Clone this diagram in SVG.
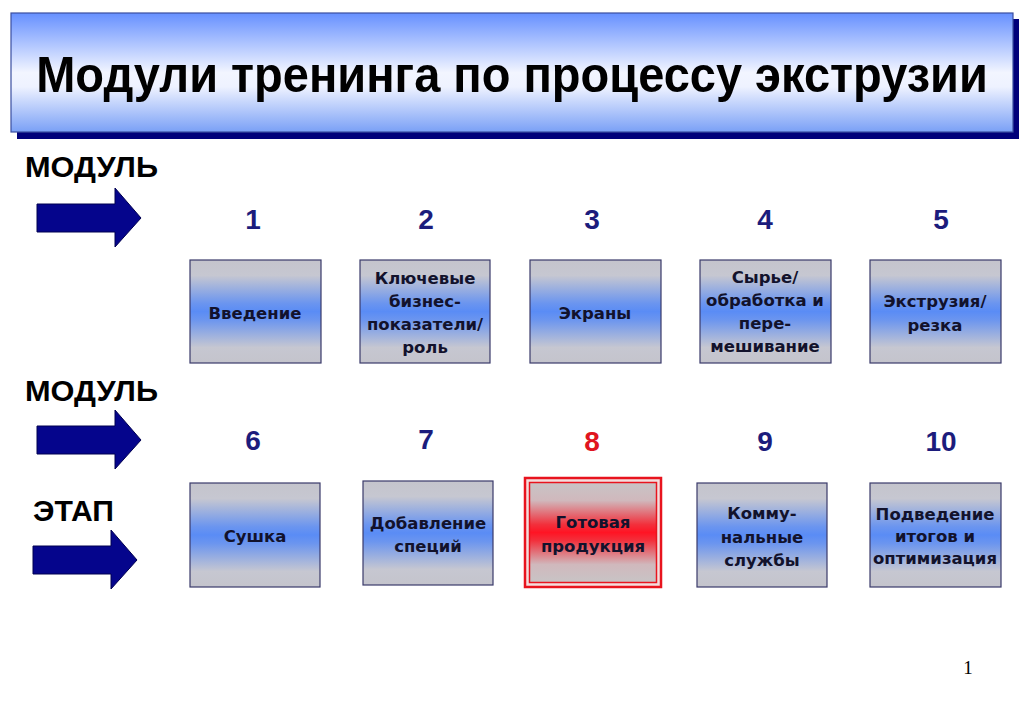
<svg xmlns="http://www.w3.org/2000/svg" width="1024" height="708" viewBox="0 0 1024 708">
<defs>
<linearGradient id="gTitle" x1="0" y1="0" x2="0" y2="1">
<stop offset="0" stop-color="#6690ff"/>
<stop offset="0.5" stop-color="#f2f5ff"/>
<stop offset="0.62" stop-color="#eef2ff"/>
<stop offset="1" stop-color="#7aa0f6"/>
</linearGradient>
<linearGradient id="gBox" x1="0" y1="0" x2="0" y2="1">
<stop offset="0" stop-color="#c4c4cc"/>
<stop offset="0.15" stop-color="#c6c7d1"/>
<stop offset="0.42" stop-color="#6b95ef"/>
<stop offset="0.5" stop-color="#5a8cf5"/>
<stop offset="0.58" stop-color="#6b95ef"/>
<stop offset="0.85" stop-color="#c6c7d1"/>
<stop offset="1" stop-color="#c4c4cc"/>
</linearGradient>
<linearGradient id="gRed" x1="0" y1="0" x2="0" y2="1">
<stop offset="0" stop-color="#c8c4c6"/>
<stop offset="0.18" stop-color="#d0b8bc"/>
<stop offset="0.42" stop-color="#f2303c"/>
<stop offset="0.5" stop-color="#ff1424"/>
<stop offset="0.58" stop-color="#f2303c"/>
<stop offset="0.82" stop-color="#d0b8bc"/>
<stop offset="1" stop-color="#c8c4c6"/>
</linearGradient>
<path id="arrowShape" d="M0,16 H78 V0 L104,30 L78,59 V44 H0 Z"/>
</defs>
<style>
.box{fill:url(#gBox);stroke:#3a3a6a;stroke-width:1.2}
.bt{font-family:"DejaVu Sans",sans-serif;font-weight:bold;font-size:16.5px;fill:#12122c;text-anchor:middle}
.num{font-family:"Liberation Sans",Arial,sans-serif;font-weight:bold;font-size:28px;fill:#1c1c7c;text-anchor:middle}
.lbl{font-family:"Liberation Sans",Arial,sans-serif;font-weight:bold;font-size:29px;fill:#000}
.arr{fill:#05058c;stroke:#000050;stroke-width:1}
</style>
<rect width="1024" height="708" fill="#fff"/>

<g id="title">
<rect x="17" y="19" width="1002" height="120" fill="#00007a"/>
<rect x="11" y="13" width="1002" height="119" fill="url(#gTitle)" stroke="#3b4fa0" stroke-width="1.2"/>
<text x="512" y="92" font-family="Liberation Sans, Arial, sans-serif" font-weight="bold" font-size="47" text-anchor="middle" fill="#000" transform="translate(512,92) scale(1,1.05) translate(-512,-92)">Модули тренинга по процессу экструзии</text>
</g>

<g id="labels">
<text class="lbl" x="25" y="177" textLength="133" lengthAdjust="spacingAndGlyphs">МОДУЛЬ</text>
<text class="lbl" x="25" y="401" textLength="133" lengthAdjust="spacingAndGlyphs">МОДУЛЬ</text>
<text class="lbl" x="33" y="521" textLength="81" lengthAdjust="spacingAndGlyphs">ЭТАП</text>
</g>

<g id="connectors">
<use href="#arrowShape" class="arr" transform="translate(37,188)"/>
<use href="#arrowShape" class="arr" transform="translate(37,410)"/>
<use href="#arrowShape" class="arr" transform="translate(33,530)"/>
</g>

<g id="numbers">
<text class="num" x="253" y="229">1</text>
<text class="num" x="426" y="229">2</text>
<text class="num" x="592" y="229">3</text>
<text class="num" x="765" y="229">4</text>
<text class="num" x="941" y="229">5</text>
<text class="num" x="253" y="450">6</text>
<text class="num" x="426" y="449">7</text>
<text class="num" x="592" y="451" style="fill:#e01420">8</text>
<text class="num" x="765" y="451">9</text>
<text class="num" x="941" y="451">10</text>
</g>

<g id="node1">
<rect class="box" x="190" y="260" width="131" height="103"/>
<text class="bt" x="255" y="319">Введение</text>
</g>
<g id="node2">
<rect class="box" x="360" y="260" width="130" height="103"/>
<text class="bt" x="425" y="284">Ключевые</text>
<text class="bt" x="425" y="307">бизнес-</text>
<text class="bt" x="425" y="330">показатели/</text>
<text class="bt" x="425" y="353">роль</text>
</g>
<g id="node3">
<rect class="box" x="530" y="260" width="131" height="103"/>
<text class="bt" x="595" y="319">Экраны</text>
</g>
<g id="node4">
<rect class="box" x="700" y="260" width="131" height="103"/>
<text class="bt" x="765" y="283">Сырье/</text>
<text class="bt" x="765" y="306">обработка и</text>
<text class="bt" x="765" y="329">пере-</text>
<text class="bt" x="765" y="352">мешивание</text>
</g>
<g id="node5">
<rect class="box" x="870" y="260" width="131" height="103"/>
<text class="bt" x="935" y="307">Экструзия/</text>
<text class="bt" x="935" y="331">резка</text>
</g>
<g id="node6">
<rect class="box" x="190" y="483" width="130" height="104"/>
<text class="bt" x="255" y="542">Сушка</text>
</g>
<g id="node7">
<rect class="box" x="363" y="481" width="130" height="104"/>
<text class="bt" x="428" y="529">Добавление</text>
<text class="bt" x="428" y="552">специй</text>
</g>
<g id="node8">
<rect x="525" y="478" width="136" height="109" fill="#f4dede" stroke="#e8141e" stroke-width="2.5"/>
<rect x="529.5" y="482.5" width="127" height="100" fill="url(#gRed)" stroke="#e8141e" stroke-width="1.5"/>
<text class="bt" x="593" y="528">Готовая</text>
<text class="bt" x="593" y="552">продукция</text>
</g>
<g id="node9">
<rect class="box" x="697" y="483" width="130" height="104"/>
<text class="bt" x="762" y="519">Комму-</text>
<text class="bt" x="762" y="543">нальные</text>
<text class="bt" x="762" y="566">службы</text>
</g>
<g id="node10">
<rect class="box" x="870" y="483" width="131" height="104"/>
<text class="bt" x="935" y="520">Подведение</text>
<text class="bt" x="935" y="542">итогов и</text>
<text class="bt" x="935" y="564">оптимизация</text>
</g>

<text x="968" y="674" font-family="Liberation Serif, serif" font-size="19" text-anchor="middle" fill="#000">1</text>
</svg>
